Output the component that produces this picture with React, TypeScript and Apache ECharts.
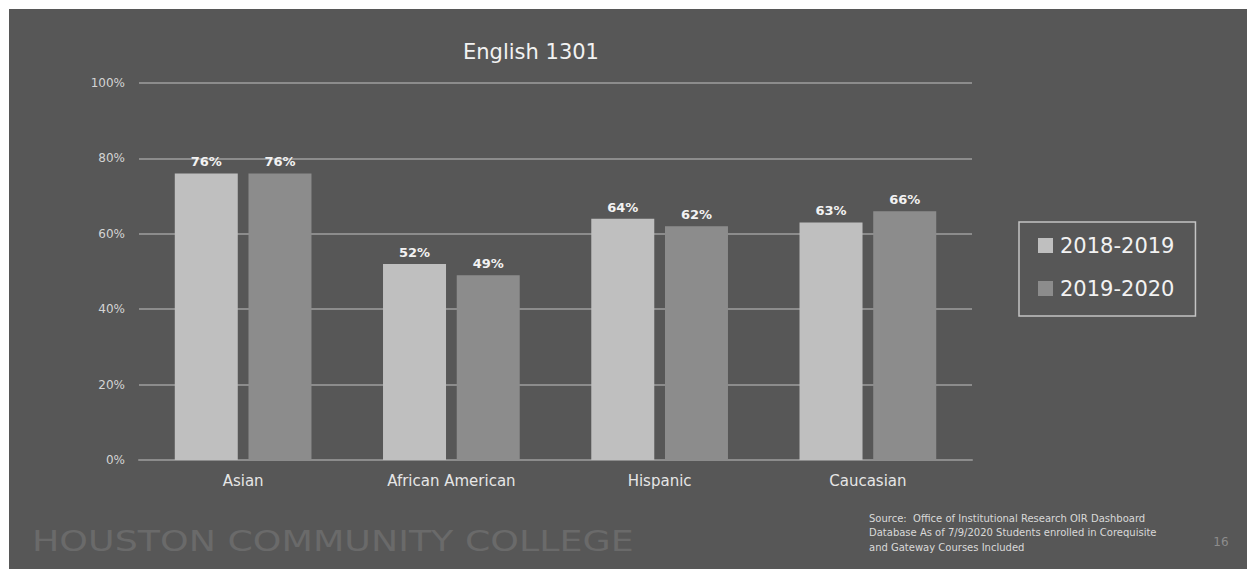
import React, { useEffect, useRef } from "react";
import * as echarts from "echarts";

const categories = ["Asian", "African American", "Hispanic", "Caucasian"];
const seriesNames = ["2018-2019", "2019-2020"];
const values2018 = [76, 52, 64, 63];
const values2019 = [76, 49, 62, 66];
const yTicks = { min: 0, max: 100, interval: 20 };
const titleText = "English 1301";
const sourceText =
  "Source:  Office of Institutional Research OIR Dashboard\nDatabase As of 7/9/2020 Students enrolled in Corequisite\nand Gateway Courses Included";
const brandText = "HOUSTON COMMUNITY COLLEGE";
const pageNumber = "16";

const FONT = "'Century Gothic', 'DejaVu Sans', sans-serif";

export default function App() {
  const ref = useRef<HTMLDivElement>(null);
  useEffect(() => {
    if (!ref.current) return;
    const chart = echarts.init(ref.current, undefined, { renderer: "svg" });
    const labelCfg = {
      show: true,
      position: "top",
      distance: 5,
      formatter: "{c}%",
      color: "#f2f2f2",
      fontWeight: "bold",
      fontSize: 13,
      fontFamily: FONT,
    };
    chart.setOption({
      animation: false,
      backgroundColor: "#575757",
      textStyle: { fontFamily: FONT },
      grid: { left: 130, right: 275, top: 74, bottom: 109 },
      legend: {
        orient: "vertical",
        left: 1010,
        top: 213,
        data: seriesNames,
        icon: "rect",
        itemWidth: 15,
        itemHeight: 15,
        itemGap: 22,
        borderColor: "#c4c4c4",
        borderWidth: 1.5,
        borderRadius: 0,
        padding: [13, 21, 17, 19],
        textStyle: { color: "#f2f2f2", fontSize: 21, fontFamily: FONT, padding: [0, 0, 0, 2] },
      },
      xAxis: {
        type: "category",
        data: categories,
        axisLine: { show: true, lineStyle: { color: "#8c8c8c", width: 2 } },
        axisTick: { show: false },
        axisLabel: { color: "#e6e6e6", fontSize: 15, margin: 13, fontFamily: FONT },
      },
      yAxis: {
        type: "value",
        min: yTicks.min,
        max: yTicks.max,
        interval: yTicks.interval,
        axisLine: { show: false },
        axisTick: { show: false },
        axisLabel: { formatter: "{value}%", color: "#d4d4d4", fontSize: 12, margin: 14, fontFamily: FONT },
        splitLine: { lineStyle: { color: "#8c8c8c", width: 2 } },
      },
      series: [
        {
          name: seriesNames[0],
          type: "bar",
          data: values2018,
          barWidth: 63,
          barGap: "17%",
          itemStyle: { color: "#bfbfbf" },
          label: labelCfg,
        },
        {
          name: seriesNames[1],
          type: "bar",
          data: values2019,
          barWidth: 63,
          barGap: "17%",
          itemStyle: { color: "#8c8c8c" },
          label: labelCfg,
        },
      ],
      graphic: [
        {
          type: "text",
          x: 522,
          y: 43,
          style: {
            text: titleText,
            fill: "#f2f2f2",
            fontSize: 21,
            fontFamily: FONT,
            textAlign: "center",
            textVerticalAlign: "middle",
          },
        },
        {
          type: "text",
          x: 860,
          y: 502,
          style: {
            text: sourceText,
            fill: "#d9d9d9",
            fontSize: 10,
            lineHeight: 14.5,
            fontFamily: FONT,
            textAlign: "left",
            textVerticalAlign: "top",
          },
        },
        {
          type: "text",
          x: 1212,
          y: 533,
          style: {
            text: pageNumber,
            fill: "#8c8c8c",
            fontSize: 12,
            fontFamily: FONT,
            textAlign: "center",
            textVerticalAlign: "middle",
          },
        },
        {
          type: "text",
          x: 23,
          y: 533,
          scaleX: 1.3,
          style: {
            text: brandText,
            fill: "#6a6a6a",
            fontSize: 28,
            fontFamily: FONT,
            textAlign: "left",
            textVerticalAlign: "middle",
          },
        },
      ],
    });
    return () => chart.dispose();
  }, []);
  return (
    <div
      ref={ref}
      style={{ position: "fixed", left: 9, top: 9, width: 1238, height: 560 }}
    />
  );
}
